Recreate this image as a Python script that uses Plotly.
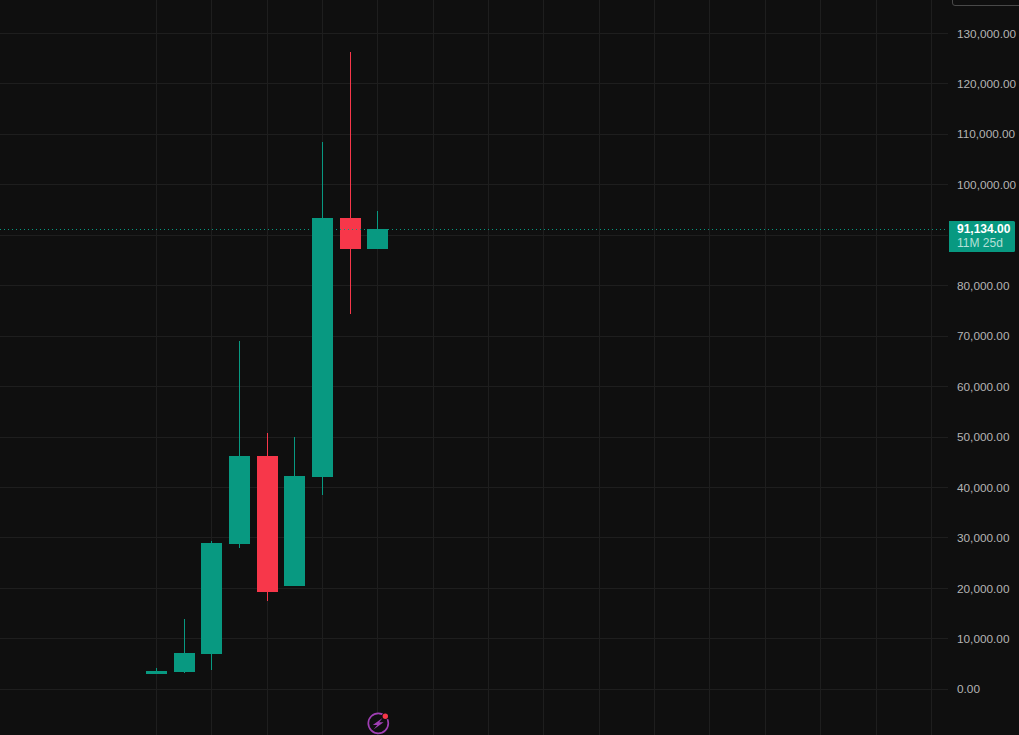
import plotly.graph_objects as go

# Reading of the reference: price candles, one per 12-month period
candle_index = [0, 1, 2, 3, 4, 5, 6, 7, 8]
open_values = [3100, 3530, 7100, 28900, 46140, 20580, 42180, 93320, 87380]
high_values = [4220, 13935, 29400, 69040, 50800, 50000, 108480, 126300, 94800]
low_values = [3100, 3230, 3830, 28000, 17500, 20580, 38500, 74400, 87380]
close_values = [3560, 7095, 28900, 46140, 19390, 42180, 93320, 87380, 91134]

last_price = 91134
countdown = "11M 25d"
grid_positions = [i * 2 for i in range(15)]
price_ticks = [0, 10000, 20000, 30000, 40000, 50000, 60000, 70000, 80000, 90000,
               100000, 110000, 120000, 130000]
# The 90,000 label sits behind the last-price label in the reference
price_labels = ["0.00", "10,000.00", "20,000.00", "30,000.00", "40,000.00", "50,000.00",
                "60,000.00", "70,000.00", "80,000.00", "", "100,000.00", "110,000.00",
                "120,000.00", "130,000.00"]

WIDTH, HEIGHT = 1019, 735
PLOT_W = 948
BG = "#0f0f0f"
GRID = "#1e1e1e"
GREEN = "#089981"
RED = "#f7374a"
PURPLE = "#a03fb4"
FONT = "Liberation Sans, Arial, sans-serif"


def px(x):
    return x / PLOT_W


def py(y):
    return 1 - y / HEIGHT


def path_px(points, close=True):
    body = " L ".join(f"{px(x):.5f},{py(y):.5f}" for x, y in points)
    return "M " + body + (" Z" if close else "")


fig = go.Figure(
    go.Candlestick(
        x=candle_index,
        open=open_values,
        high=high_values,
        low=low_values,
        close=close_values,
        increasing=dict(line=dict(color=GREEN, width=1), fillcolor=GREEN),
        decreasing=dict(line=dict(color=RED, width=1), fillcolor=RED),
        whiskerwidth=0,
        showlegend=False,
    )
)

fig.update_layout(
    width=WIDTH,
    height=HEIGHT,
    margin=dict(l=0, r=WIDTH - PLOT_W, t=0, b=0, pad=0),
    paper_bgcolor=BG,
    plot_bgcolor=BG,
    showlegend=False,
    boxgap=0.28,
    boxgroupgap=0,
    font=dict(family=FONT, size=11.8, color="#b4b4b4"),
    xaxis=dict(
        range=[-5.65, 28.6],
        tickmode="array",
        tickvals=grid_positions,
        showgrid=True,
        gridcolor=GRID,
        gridwidth=1,
        zeroline=False,
        showticklabels=False,
        ticks="",
        showline=False,
        rangeslider=dict(visible=False),
    ),
    yaxis=dict(
        side="right",
        range=[-9058, 136620],
        tickmode="array",
        tickvals=price_ticks,
        ticktext=price_labels,
        showgrid=True,
        gridcolor=GRID,
        gridwidth=1,
        zeroline=False,
        showline=False,
        ticks="",
        ticklabelstandoff=8,
        automargin=False,
    ),
)

# Dotted last-price line
fig.add_shape(
    type="line", xref="paper", yref="y", x0=0, x1=1, y0=last_price, y1=last_price,
    line=dict(color=GREEN, width=1, dash="1px,3px"), layer="above",
)

# Last-price label: box with slightly rounded corners, then its two lines of text
fig.add_shape(
    type="path", xref="paper", yref="paper", layer="above",
    path=(f"M {px(949):.5f},{py(221):.5f} L {px(1013.5):.5f},{py(221):.5f} "
          f"Q {px(1015):.5f},{py(221):.5f} {px(1015):.5f},{py(222.5):.5f} "
          f"L {px(1015):.5f},{py(250.5):.5f} "
          f"Q {px(1015):.5f},{py(252):.5f} {px(1013.5):.5f},{py(252):.5f} "
          f"L {px(949):.5f},{py(252):.5f} Z"),
    line=dict(width=0), fillcolor=GREEN,
)
fig.add_annotation(
    xref="paper", yref="y", x=1, y=last_price, xanchor="left", yanchor="middle",
    xshift=8, yshift=0, showarrow=False, borderpad=0,
    text=f"<b>{last_price:,.2f}</b>",
    font=dict(family=FONT, size=12, color="#ffffff"),
)
fig.add_annotation(
    xref="paper", yref="y", x=1, y=last_price, xanchor="left", yanchor="middle",
    xshift=8, yshift=-14, showarrow=False, borderpad=0,
    text=countdown,
    font=dict(family=FONT, size=12, color="#b5e0d8"),
)

# Corner of the control at the top right
fig.add_shape(
    type="path", xref="paper", yref="paper", layer="above",
    path=(f"M {px(952.5):.5f},{py(-1):.5f} L {px(952.5):.5f},{py(3):.5f} "
          f"Q {px(952.5):.5f},{py(5.5):.5f} {px(955):.5f},{py(5.5):.5f} L {px(1019):.5f},{py(5.5):.5f}"),
    line=dict(color="#4a4a4a", width=1),
)

# Bottom event marker
fig.add_shape(
    type="circle", xref="paper", yref="paper", layer="above",
    x0=px(368.3), x1=px(388.3), y0=py(733.3), y1=py(713.3),
    line=dict(color=PURPLE, width=1.7), fillcolor=BG,
)
fig.add_shape(
    type="path", xref="paper", yref="paper", layer="above",
    path=path_px([(382.8, 717.8), (372.8, 725), (377.3, 725), (373.6, 729.6), (383.6, 722.2), (379.2, 722.2)]),
    line=dict(width=0), fillcolor=PURPLE,
)
fig.add_shape(
    type="circle", xref="paper", yref="paper", layer="above",
    x0=px(381.8), x1=px(388.8), y0=py(719.8), y1=py(712.8),
    line=dict(width=0), fillcolor=BG,
)
fig.add_shape(
    type="circle", xref="paper", yref="paper", layer="above",
    x0=px(382.6), x1=px(388), y0=py(719), y1=py(713.6),
    line=dict(width=0), fillcolor=RED,
)

fig.write_html(
    "out.html",
    config=dict(displayModeBar=False),
    post_script=(
        "document.body.style.margin='0';document.body.style.background='#0f0f0f';"
        "var s=document.createElement('style');"
        "s.textContent='.boxes path{shape-rendering:crispEdges}';"
        "document.head.appendChild(s);"
    ),
)
